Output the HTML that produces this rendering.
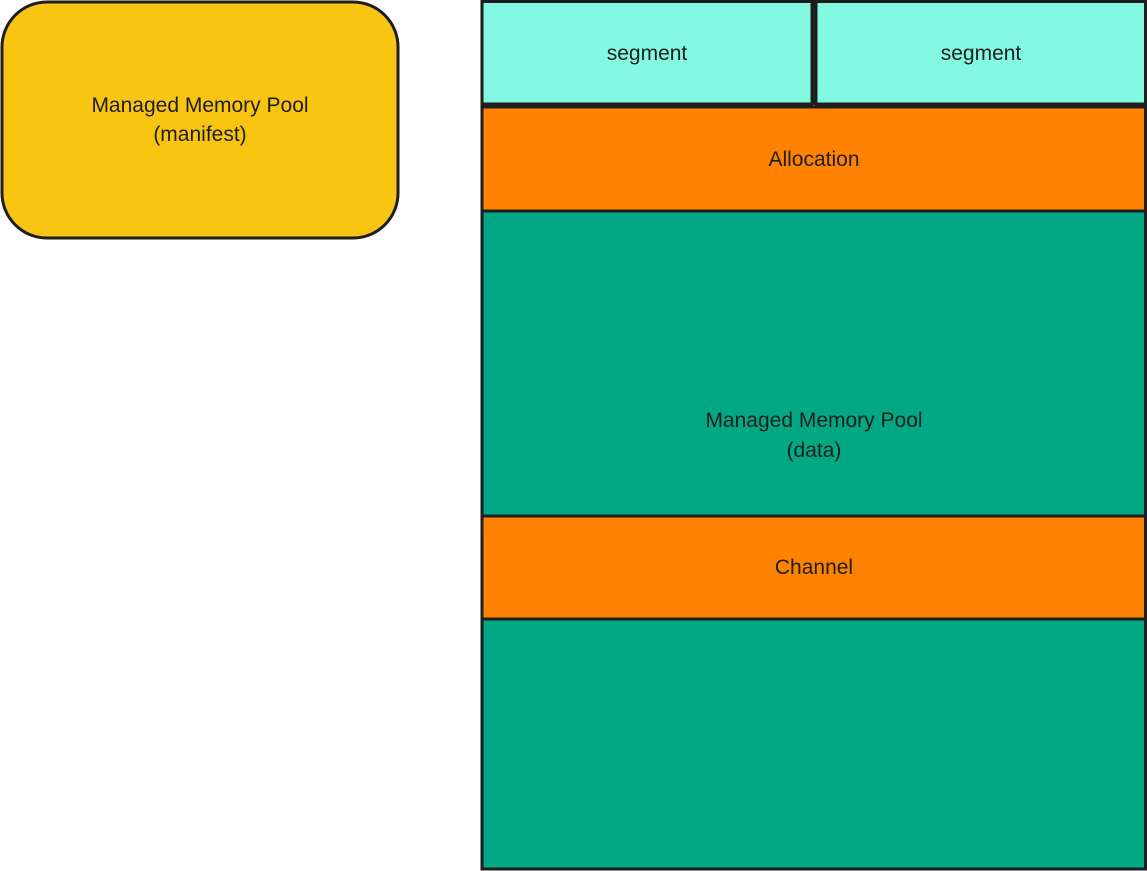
<!DOCTYPE html>
<html><head><meta charset="utf-8"><style>
html,body{margin:0;padding:0;background:#fff;}
svg{display:block;}
text{font-family:"Liberation Sans",sans-serif;font-size:21px;fill:#1e1e1e;text-anchor:middle;}
</style></head><body>
<svg width="1147" height="871" viewBox="0 0 1147 871" xmlns="http://www.w3.org/2000/svg">
<g stroke="#1e1e1e" stroke-width="3">
<rect x="2" y="2" width="396" height="236" rx="45" ry="45" fill="#f9c513"/>
<rect x="482" y="1.5" width="330" height="102.5" fill="#83f9e2"/>
<rect x="816" y="1.5" width="329.5" height="102.5" fill="#83f9e2"/>
<rect x="482" y="107" width="663.5" height="104" fill="#ff8301"/>
<rect x="482" y="211" width="663.5" height="305" fill="#02a883"/>
<rect x="482" y="516" width="663.5" height="103" fill="#ff8301"/>
<rect x="482" y="619" width="663.5" height="250" fill="#02a883"/>
</g>
<rect x="811" y="0" width="6" height="105" fill="#1e1e1e"/>
<text x="200" y="112">Managed Memory Pool</text>
<text x="200" y="141">(manifest)</text>
<text x="647" y="60">segment</text>
<text x="981" y="60">segment</text>
<text x="814" y="166">Allocation</text>
<text x="814" y="427">Managed Memory Pool</text>
<text x="814" y="457">(data)</text>
<text x="814" y="574">Channel</text>
</svg>
</body></html>
